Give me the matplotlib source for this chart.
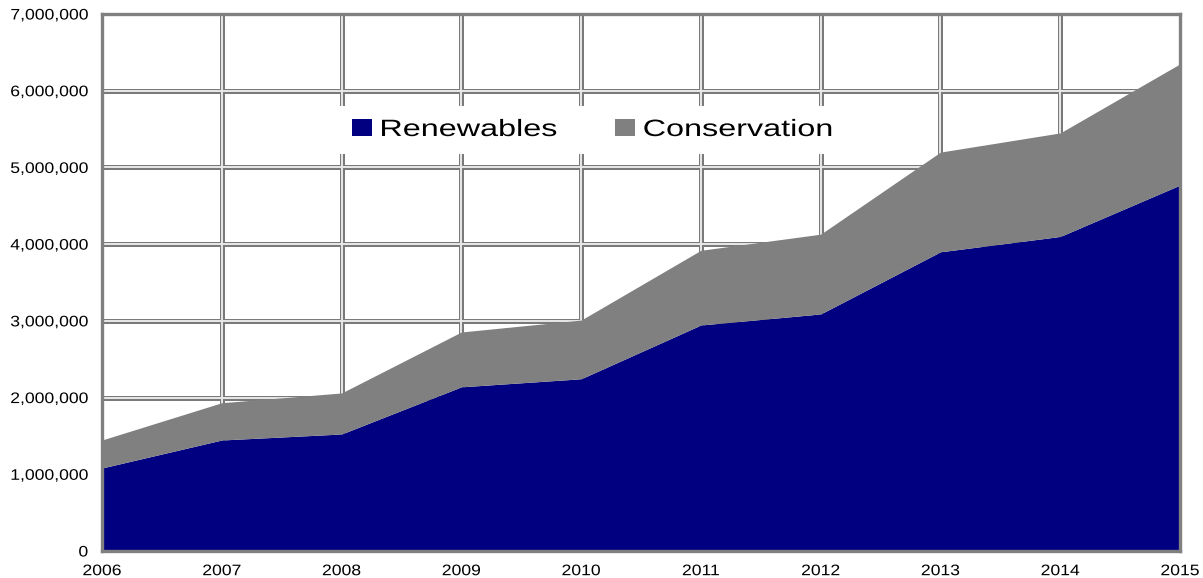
import matplotlib
matplotlib.use("Agg")
import matplotlib.pyplot as plt
from matplotlib.patches import Patch, Rectangle
from matplotlib.patheffects import AbstractPathEffect
from matplotlib.transforms import Affine2D
import numpy as np

plt.rcParams['font.family'] = ['Liberation Sans', 'DejaVu Sans']

years = [2006, 2007, 2008, 2009, 2010, 2011, 2012, 2013, 2014, 2015]
renewables = [1082000, 1447000, 1525000, 2140000, 2245000, 2946000, 3090000, 3900000, 4100000, 4770000]
conservation = [365000, 486000, 535000, 715000, 765000, 974000, 1040000, 1300000, 1350000, 1580000]
y_ticks = [0, 1000000, 2000000, 3000000, 4000000, 5000000, 6000000, 7000000]
series_names = ['Renewables', 'Conservation']

navy = '#000080'
grey = '#808080'


class WideText(AbstractPathEffect):
    """Draw text glyphs widened horizontally about a chosen anchor."""

    def __init__(self, sx, anchor='center'):
        super().__init__()
        self.sx = sx
        self.anchor = anchor

    def draw_path(self, renderer, gc, tpath, affine, rgbFace=None):
        ext = tpath.get_extents()
        ax0 = {'left': ext.x0, 'center': 0.5 * (ext.x0 + ext.x1),
               'right': ext.x1}[self.anchor]
        pre = Affine2D().translate(-ax0, 0).scale(self.sx, 1).translate(ax0, 0)
        renderer.draw_path(gc, tpath, pre + affine, rgbFace)


W, H = 1203, 578
fig = plt.figure(figsize=(W / 100, H / 100), dpi=100)
ax = fig.add_axes([102 / W, 27 / H, 1078 / W, 537 / H])

x = np.array(years)
r = np.array(renewables)
c = np.array(conservation)

# pipe-style gridlines: dark outer stroke with a light core
for yv in y_ticks[1:-1]:
    ax.axhline(yv, color='#7a7a7a', lw=3.6, zorder=1)
    ax.axhline(yv, color='#e8e8e8', lw=1.4, zorder=1.1)
for xv in years[1:-1]:
    ax.axvline(xv, color='#7a7a7a', lw=3.6, zorder=1)
    ax.axvline(xv, color='#e8e8e8', lw=1.4, zorder=1.1)

ax.fill_between(x, 0, r, color=navy, lw=0, zorder=2)
ax.fill_between(x, r, r + c, color=grey, lw=0, zorder=2)

ax.set_xlim(years[0], years[-1])
ax.set_ylim(y_ticks[0], y_ticks[-1])
ax.set_xticks(years)
ax.set_xticklabels([str(v) for v in years], fontsize=11)
ax.set_yticks(y_ticks)
ax.set_yticklabels([f"{v:,}" for v in y_ticks], fontsize=11)
ax.tick_params(length=0)
ax.tick_params(axis='y', pad=10)
ax.tick_params(axis='x', pad=9.5)
for lbl in ax.get_yticklabels():
    lbl.set_path_effects([WideText(1.15, 'right')])
for lbl in ax.get_xticklabels():
    lbl.set_path_effects([WideText(1.15, 'center')])

for s in ax.spines.values():
    s.set_color(grey)
    s.set_linewidth(2.4)
    s.set_zorder(5)

# white panel behind the legend
ax.add_patch(Rectangle((0.216, 0.739), 0.473, 0.090, transform=ax.transAxes,
                       facecolor='white', edgecolor='none', zorder=3))

handles = [Patch(facecolor=navy, edgecolor='none'), Patch(facecolor=grey, edgecolor='none')]
leg = ax.legend(handles, series_names, ncol=2,
                loc='center left', bbox_to_anchor=(352 / W, 1 - 130 / H),
                bbox_transform=fig.transFigure, frameon=False,
                fontsize=17, handlelength=0.85, handleheight=0.72,
                handletextpad=0.34, columnspacing=4.45, borderpad=0,
                borderaxespad=0)
leg.set_zorder(6)
for t in leg.get_texts():
    t.set_path_effects([WideText(1.37, 'left')])

fig.savefig('out.png', dpi=100)
